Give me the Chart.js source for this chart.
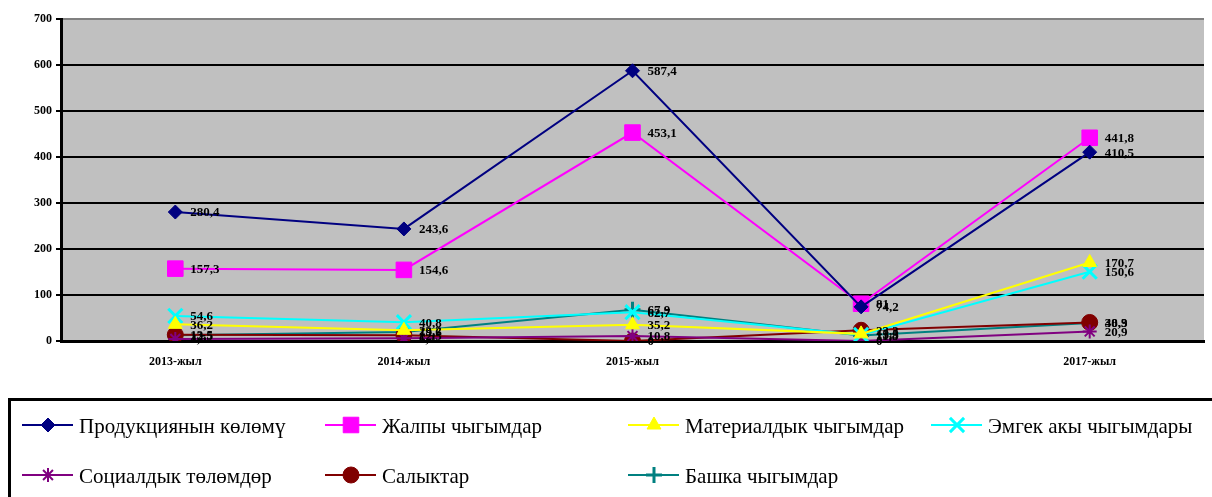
<!DOCTYPE html>
<html>
<head>
<meta charset="utf-8">
<script src="https://cdn.jsdelivr.net/npm/chart.js@4/dist/chart.umd.min.js"></script>
<style>
  html, body { margin: 0; padding: 0; background: #fff; }
  #wrap { width: 1212px; height: 497px; }
</style>
</head>
<body>
<div id="wrap"><canvas id="grafica" width="1212" height="497"></canvas></div>
<script>
// Категориялар жана сериялар
const jyldar = ['2013-жыл', '2014-жыл', '2015-жыл', '2016-жыл', '2017-жыл'];
const yTicks = [0, 100, 200, 300, 400, 500, 600, 700];

const produkciya = [280.4, 243.6, 587.4, 74.2, 410.5];
const jalpy = [157.3, 154.6, 453.1, 81, 441.8];
const material = [36.2, 23.2, 35.2, 15.5, 170.7];
const emgek = [54.6, 40.8, 62.7, 13.3, 150.6];
const social = [4.5, 6.2, 10.8, 0, 20.9];
const salyk = [13.5, 12.5, 0, 23.3, 40.3];
const bashka = [12.5, 19.6, 67.9, 11.8, 38.9];

const serif = '"Liberation Serif", "Times New Roman", serif';

function seriya(label, data, color, style, radius, bw) {
    return {
        label: label,
        data: data,
        borderColor: color,
        backgroundColor: color,
        borderWidth: 2,
        pointStyle: style,
        pointRadius: radius,
        pointHoverRadius: radius,
        pointBorderWidth: bw,
        tension: 0,
        fill: false
    };
}

// Боз фон
const fonPlugin = {
    id: 'fon',
    beforeDraw(chart) {
        const a = chart.chartArea;
        const ctx = chart.ctx;
        ctx.save();
        ctx.fillStyle = '#c0c0c0';
        ctx.fillRect(a.left, a.top, a.right - a.left, a.bottom - a.top);
        ctx.restore();
    }
};

// Чекиттердин маанилери
const maaniPlugin = {
    id: 'maani',
    afterDatasetsDraw(chart) {
        const ctx = chart.ctx;
        ctx.save();
        ctx.font = 'bold 13px ' + serif;
        ctx.fillStyle = '#000';
        ctx.textBaseline = 'middle';
        ctx.textAlign = 'left';
        chart.data.datasets.forEach(function (ds, i) {
            chart.getDatasetMeta(i).data.forEach(function (pt, j) {
                const txt = String(ds.data[j]).replace('.', ',');
                ctx.fillText(txt, pt.x + 15, pt.y + 1);
            });
        });
        ctx.restore();
    }
};

// Легенда алкактын ичинде
const legendaPlugin = {
    id: 'legenda',
    afterDraw(chart) {
        const ctx = chart.ctx;
        const orun = [[22, 425], [325, 425], [628, 425], [931, 425],
                      [22, 475], [325, 475], [628, 475]];
        ctx.save();
        ctx.strokeStyle = '#000';
        ctx.lineWidth = 3;
        ctx.strokeRect(9.5, 399.5, 1230, 200);
        ctx.font = '21px ' + serif;
        ctx.textBaseline = 'middle';
        chart.data.datasets.forEach(function (ds, i) {
            const x = orun[i][0], y = orun[i][1];
            ctx.strokeStyle = ds.borderColor;
            ctx.lineWidth = 2;
            ctx.beginPath();
            ctx.moveTo(x, y);
            ctx.lineTo(x + 51, y);
            ctx.stroke();
            ctx.fillStyle = ds.backgroundColor;
            ctx.strokeStyle = ds.borderColor;
            ctx.lineWidth = ds.pointBorderWidth;
            Chart.helpers.drawPoint(ctx, {
                pointStyle: ds.pointStyle,
                radius: ds.pointRadius,
                rotation: 0,
                borderWidth: ds.pointBorderWidth
            }, x + 26, y);
            ctx.fillStyle = '#000';
            ctx.fillText(ds.label, x + 57, y + 2);
        });
        ctx.restore();
    }
};

const ctx = document.getElementById('grafica').getContext('2d');

new Chart(ctx, {
    type: 'line',
    data: {
        labels: jyldar,
        datasets: [
            seriya('Продукциянын көлөмү', produkciya, '#000080', 'rectRot', 7, 1),
            seriya('Жалпы чыгымдар', jalpy, '#ff00ff', 'rect', 11, 1),
            seriya('Материалдык чыгымдар', material, '#ffff00', 'triangle', 8, 1),
            seriya('Эмгек акы чыгымдары', emgek, '#00ffff', 'crossRot', 10, 3),
            seriya('Социалдык төлөмдөр', social, '#800080', 'star', 7, 2),
            seriya('Салыктар', salyk, '#800000', 'circle', 8, 1),
            seriya('Башка чыгымдар', bashka, '#008080', 'cross', 8, 3)
        ]
    },
    options: {
        responsive: false,
        animation: false,
        layout: {
            autoPadding: false,
            padding: { top: 19, right: 8, bottom: 126, left: 0 }
        },
        plugins: {
            legend: { display: false },
            tooltip: { enabled: false }
        },
        scales: {
            x: {
                offset: true,
                grid: { display: false },
                border: { color: '#000', width: 3 },
                ticks: {
                    color: '#000',
                    font: { family: serif, size: 12, weight: 'bold' },
                    padding: 6
                },
                afterFit(scale) {
                    scale.height = 30;
                    scale.paddingLeft = 0;
                    scale.paddingRight = 0;
                }
            },
            y: {
                min: 0,
                max: 700,
                afterBuildTicks(scale) {
                    scale.ticks = yTicks.map(function (v) { return { value: v }; });
                },
                grid: {
                    color(c) { return c.tick && c.tick.value === 700 ? '#808080' : '#000'; },
                    lineWidth: 2,
                    tickLength: 5,
                    tickColor: '#000'
                },
                border: { color: '#000', width: 3 },
                ticks: {
                    color: '#000',
                    font: { family: serif, size: 12, weight: 'bold' },
                    padding: 4
                },
                afterFit(scale) { scale.width = 61; }
            }
        }
    },
    plugins: [fonPlugin, maaniPlugin, legendaPlugin]
});
</script>
</body>
</html>
